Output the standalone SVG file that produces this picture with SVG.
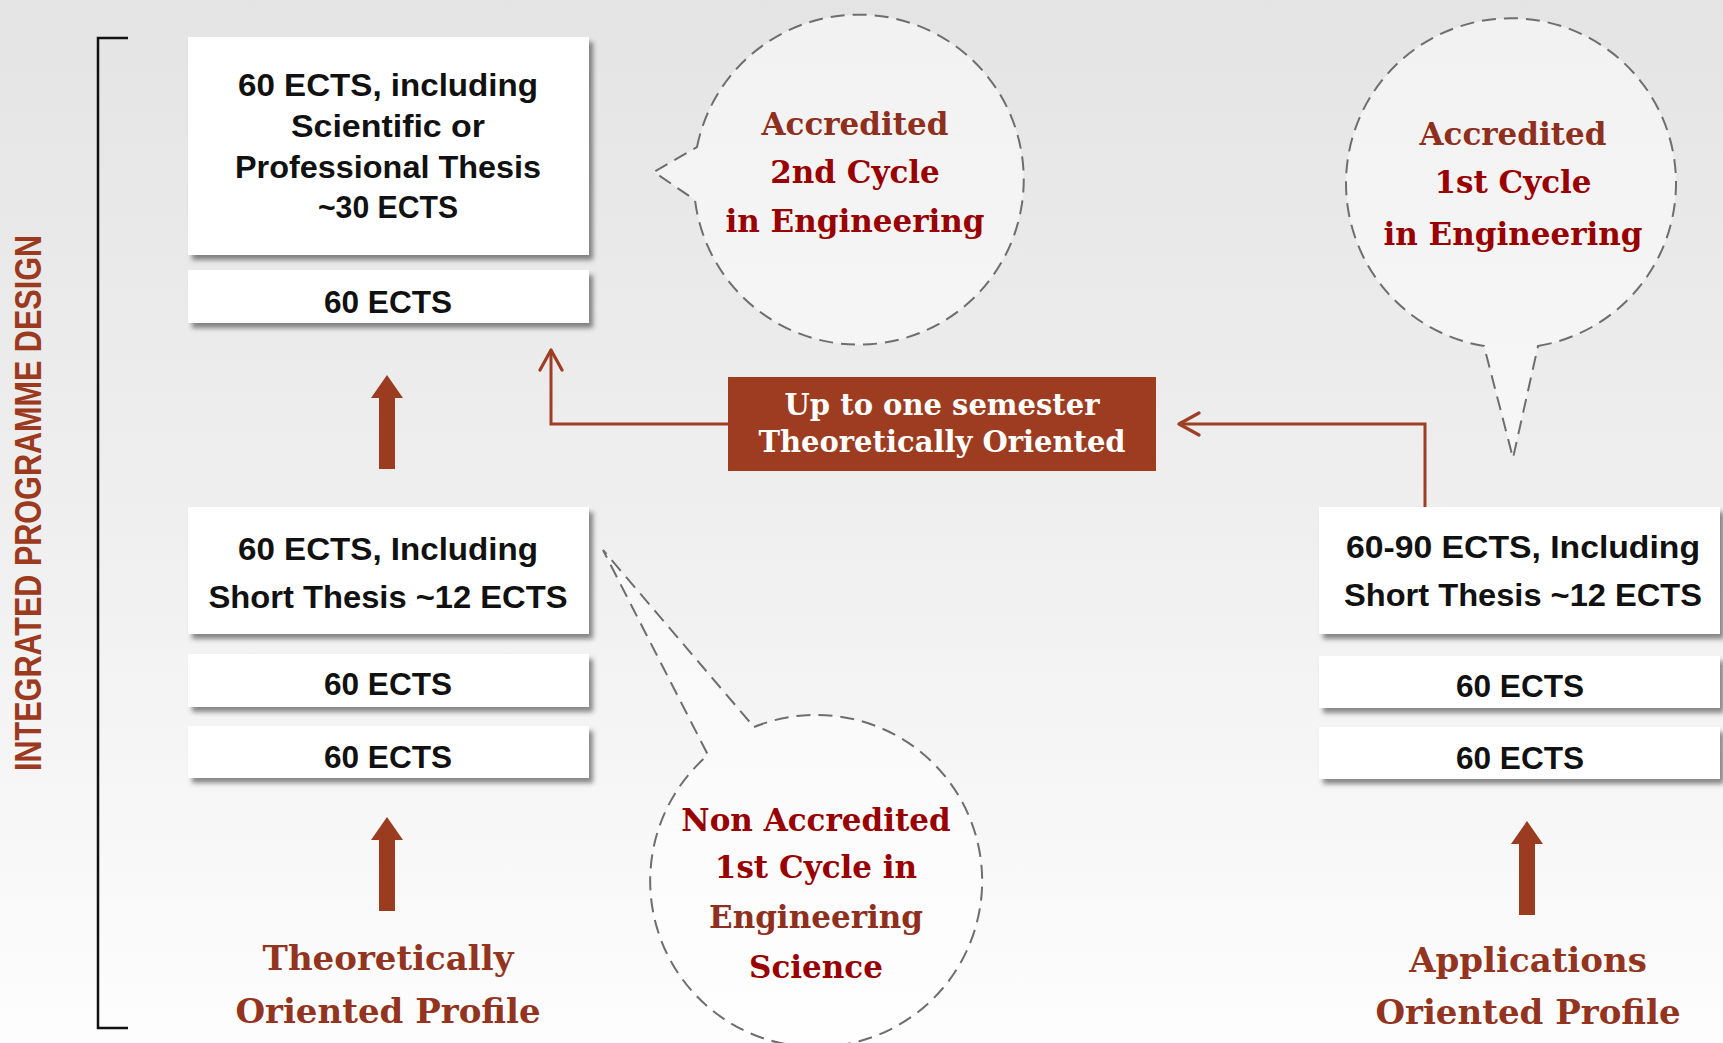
<svg xmlns="http://www.w3.org/2000/svg" width="1723" height="1043" viewBox="0 0 1723 1043">
<defs>
<linearGradient id="bg" x1="0" y1="0" x2="0" y2="1">
<stop offset="0" stop-color="#e4e4e4"/>
<stop offset="0.5" stop-color="#efefef"/>
<stop offset="1" stop-color="#fdfdfd"/>
</linearGradient>
<filter id="sh" x="-5%" y="-10%" width="115%" height="130%">
<feDropShadow dx="4" dy="5" stdDeviation="2.5" flood-color="#000" flood-opacity="0.45"/>
</filter>
<marker id="open" viewBox="0 0 24 26" refX="22" refY="13" markerWidth="24" markerHeight="26" markerUnits="userSpaceOnUse" orient="auto">
<path d="M2 2 L22 13 L2 24" fill="none" stroke="#9e3f25" stroke-width="3.2" stroke-linecap="round" stroke-linejoin="round"/>
</marker>
<path id="bigarrow" d="M0 0 L16 23 L8 23 L8 94 L-8 94 L-8 23 L-16 23 Z"/>
</defs>
<style>
.box{fill:#fff;filter:url(#sh)}
.bt{font-family:"Liberation Sans",Arial,sans-serif;font-weight:bold;font-size:32px;fill:#111;text-anchor:middle}
.bub{fill:#fff;fill-opacity:0.5;stroke:#6e6e6e;stroke-width:2;stroke-dasharray:14 8}
.st{font-family:"DejaVu Serif","Liberation Serif",serif;font-weight:bold;text-anchor:middle}
.bubt{font-size:31px;fill:#990000}
.brn{fill:#8f2f1e}
.prof{font-size:34px;fill:#933420}
.lab{font-size:29px;fill:#fff}
.conn{fill:none;stroke:#9e3f25;stroke-width:3;marker-end:url(#open)}
.thick{fill:#9b3b20}
</style>
<rect x="0" y="0" width="1723" height="1043" fill="url(#bg)"/>

<g id="side-label">
<path d="M128 38 H98 V1028 H128" fill="none" stroke="#111" stroke-width="2.5"/>
<text transform="translate(41,503) rotate(-90)" text-anchor="middle" font-family="'Liberation Sans',Arial,sans-serif" font-weight="bold" font-size="37" fill="#9c3a20" textLength="536" lengthAdjust="spacingAndGlyphs">INTEGRATED PROGRAMME DESIGN</text>
</g>

<g id="bubble-2nd-cycle">
<path class="bub" d="M697 147 A165 165 0 1 1 695 200 L654 172 Z"/>
<text class="st bubt brn" x="855" y="135">Accredited</text>
<text class="st bubt" x="855" y="183">2nd Cycle</text>
<text class="st bubt" x="855" y="232">in Engineering</text>
</g>

<g id="bubble-1st-cycle">
<path class="bub" d="M1538 346 A165 165 0 1 0 1484 346 L1513 458 Z"/>
<text class="st bubt brn" x="1513" y="145">Accredited</text>
<text class="st bubt" x="1513" y="193">1st Cycle</text>
<text class="st bubt" x="1513" y="245">in Engineering</text>
</g>

<g id="bubble-non-accredited">
<path class="bub" d="M754 727 A166 166 0 1 1 708 755 L603 550 Z"/>
<text class="st bubt" x="816" y="831">Non Accredited</text>
<text class="st bubt" x="816" y="878">1st Cycle in</text>
<text class="st bubt brn" x="816" y="928">Engineering</text>
<text class="st bubt" x="816" y="978">Science</text>
</g>

<g id="box-thesis-30">
<rect class="box" x="188" y="37" width="401" height="218"/>
<text class="bt" x="388" y="96" textLength="300" lengthAdjust="spacingAndGlyphs">60 ECTS, including</text>
<text class="bt" x="388" y="137" textLength="194" lengthAdjust="spacingAndGlyphs">Scientific or</text>
<text class="bt" x="388" y="178" textLength="306" lengthAdjust="spacingAndGlyphs">Professional Thesis</text>
<text class="bt" x="388" y="218" textLength="140" lengthAdjust="spacingAndGlyphs">~30 ECTS</text>
</g>
<g id="box-60-a">
<rect class="box" x="188" y="270" width="401" height="53"/>
<text class="bt" x="388" y="313" textLength="128" lengthAdjust="spacingAndGlyphs">60 ECTS</text>
</g>

<g id="box-thesis-12-left">
<rect class="box" x="188" y="507" width="401" height="127"/>
<text class="bt" x="388" y="560" textLength="300" lengthAdjust="spacingAndGlyphs">60 ECTS, Including</text>
<text class="bt" x="388" y="608" textLength="359" lengthAdjust="spacingAndGlyphs">Short Thesis ~12 ECTS</text>
</g>
<g id="box-60-b">
<rect class="box" x="188" y="654" width="401" height="53"/>
<text class="bt" x="388" y="695" textLength="128" lengthAdjust="spacingAndGlyphs">60 ECTS</text>
</g>
<g id="box-60-c">
<rect class="box" x="188" y="726" width="401" height="52"/>
<text class="bt" x="388" y="768" textLength="128" lengthAdjust="spacingAndGlyphs">60 ECTS</text>
</g>

<g id="box-thesis-12-right">
<rect class="box" x="1319" y="507" width="401" height="127"/>
<text class="bt" x="1523" y="558" textLength="354" lengthAdjust="spacingAndGlyphs">60-90 ECTS, Including</text>
<text class="bt" x="1523" y="606" textLength="358" lengthAdjust="spacingAndGlyphs">Short Thesis ~12 ECTS</text>
</g>
<g id="box-60-d">
<rect class="box" x="1319" y="656" width="401" height="52"/>
<text class="bt" x="1520" y="697" textLength="128" lengthAdjust="spacingAndGlyphs">60 ECTS</text>
</g>
<g id="box-60-e">
<rect class="box" x="1319" y="727" width="401" height="52"/>
<text class="bt" x="1520" y="769" textLength="128" lengthAdjust="spacingAndGlyphs">60 ECTS</text>
</g>

<g id="label-semester">
<rect x="728" y="377" width="428" height="94" fill="#9d3c20"/>
<text class="st lab" x="942" y="415">Up to one semester</text>
<text class="st lab" x="942" y="452">Theoretically Oriented</text>
</g>

<g id="profile-theoretical">
<text class="st prof" x="388" y="970">Theoretically</text>
<text class="st prof" x="388" y="1023">Oriented Profile</text>
</g>
<g id="profile-applications">
<text class="st prof" x="1528" y="972">Applications</text>
<text class="st prof" x="1528" y="1024">Oriented Profile</text>
</g>

<g id="connectors">
<use href="#bigarrow" class="thick" x="387" y="375"/>
<use href="#bigarrow" class="thick" x="387" y="817"/>
<use href="#bigarrow" class="thick" x="1527" y="821"/>
<path class="conn" d="M728 424 H551 V350"/>
<path class="conn" d="M1425 507 V424 H1179"/>
</g>
</svg>
